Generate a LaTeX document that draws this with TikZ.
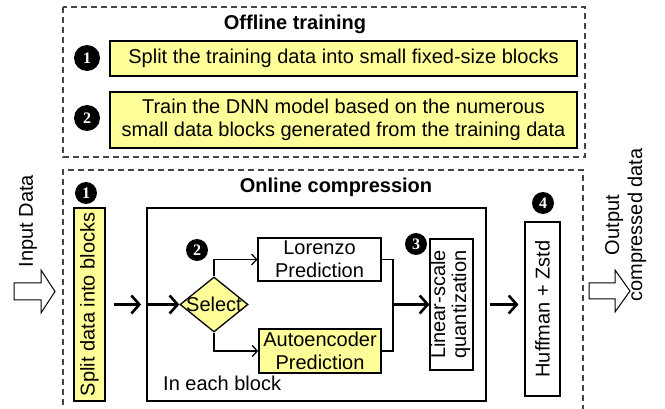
\documentclass[tikz,border=0pt]{standalone}
\usepackage{fontspec}
\setmainfont{Liberation Sans}
\newfontfamily\numfont{Liberation Serif}
\usetikzlibrary{arrows.meta,shapes.geometric}
\definecolor{yel}{RGB}{255,255,153}
\definecolor{dashgray}{RGB}{70,70,70}
\newcommand\myrot[1]{\rotatebox{90}{#1}}
\tikzset{
 txt/.style={font=\fontsize{20}{23}\selectfont},
 boldtxt/.style={font=\bfseries\fontsize{20}{23}\selectfont},
 box/.style={draw, inner sep=0pt, txt, align=center},
 ybox/.style={box, fill=yel, line width=1.8pt},
 wbox/.style={box, fill=white, line width=1.1pt},
 dbox/.style={draw=dashgray, dash pattern=on 6pt off 4pt, line width=1.2pt},
 num/.style={circle, fill=black, text=white, inner sep=0pt, font=\numfont\bfseries\fontsize{16}{16}\selectfont},
 big/.style={line width=2.6pt, -{Straight Barb[length=8pt,width=18pt]}},
 small/.style={line width=1.3pt, -{Straight Barb[length=5pt,width=11pt]}},
 hollow/.style={draw, line width=1pt, fill=white},
}
\begin{document}
\begin{tikzpicture}[x=1pt,y=-1pt]
\useasboundingbox (0,0) rectangle (665,409);
% offline training
\draw[dbox] (63,7) rectangle (585,157);
\node[boldtxt] (offt) at (295,24) {Offline training};
\node[ybox, minimum width=467pt, minimum height=35pt] (o1) at (343.5,58.5) {Split the training data into small fixed-size blocks};
\node[ybox, minimum width=467pt, minimum height=56pt] (o2) at (343.5,120) {Train the DNN model based on the numerous\\small data blocks generated from the training data};
\node[num, minimum size=26pt] (t1) at (87,58) {1};
\node[num, minimum size=26pt] (t2) at (87,118) {2};
% online compression
\draw[dbox] (63,415) -- (63,170) -- (583,170) -- (583,415);
\node[boldtxt] (ont) at (336,187) {Online compression};
\node[ybox, line width=1.5pt, minimum width=31pt, minimum height=193pt] (split) at (89.5,304.5) {\myrot{Split data into blocks}};
\node[draw, line width=1.8pt, minimum width=339pt, minimum height=193pt, inner sep=0pt] (inner) at (316.5,304.5) {};
\node[txt, anchor=west, inner sep=0pt] (each) at (163,383) {In each block};
\node[diamond, draw, fill=yel, line width=1.3pt, minimum width=68pt, minimum height=55pt, inner sep=0pt] (sel) at (214,304.5) {};
\node[txt, inner sep=0pt] (seltxt) at (sel) {Select};
\node[wbox, minimum width=123pt, minimum height=43pt] (lor) at (319.5,259.5) {Lorenzo\\Prediction};
\node[ybox, minimum width=122pt, minimum height=44pt] (auto) at (320,351) {Autoencoder\\Prediction};
\node[wbox, minimum width=43pt, minimum height=131pt] (lin) at (451.5,304.5) {\myrot{\fontsize{20}{21}\selectfont\begin{tabular}{@{}c@{}}Linear-scale\\quantization\end{tabular}}};
\node[wbox, minimum width=35pt, minimum height=174pt] (huf) at (542.5,309) {\myrot{Huffman + Zstd}};
\node[num, minimum size=22pt] (c1) at (86,193) {1};
\node[num, minimum size=22pt] (c2) at (197,250) {2};
\node[num, minimum size=22pt] (c3) at (416,244) {3};
\node[num, minimum size=22pt] (c4) at (543,203) {4};
% connectors
\draw[big, shorten <=8pt, shorten >=5pt] (split.east) -- (inner.west);
\draw[big, shorten <=1pt] (inner.west) -- (sel.west);
\draw[small] (sel.north) |- (lor.west);
\draw[small] (sel.south) |- (auto.west);
\coordinate (m) at (393,304.5);
\draw[line width=1.3pt] (lor.east) -| (m) |- (auto.east);
\draw[big] (m) -- (lin.west);
\draw[big, shorten <=3pt, shorten >=6pt] (inner.east) -- (inner.east -| huf.west);
% hollow arrows and side labels
\draw[hollow] (14,283) -- (41,283) -- (41,270) -- (55,291.5) -- (41,313) -- (41,300) -- (14,300) -- cycle;
\draw[hollow] (589,283) -- (615,283) -- (615,270) -- (630,291) -- (615,312) -- (615,299) -- (589,299) -- cycle;
\node[txt] (inp) at (28,221) {\myrot{Input Data}};
\node[txt] (outp) at (626,225) {\myrot{\begin{tabular}{@{}c@{}}Output\\compressed data\end{tabular}}};
\end{tikzpicture}
\end{document}
